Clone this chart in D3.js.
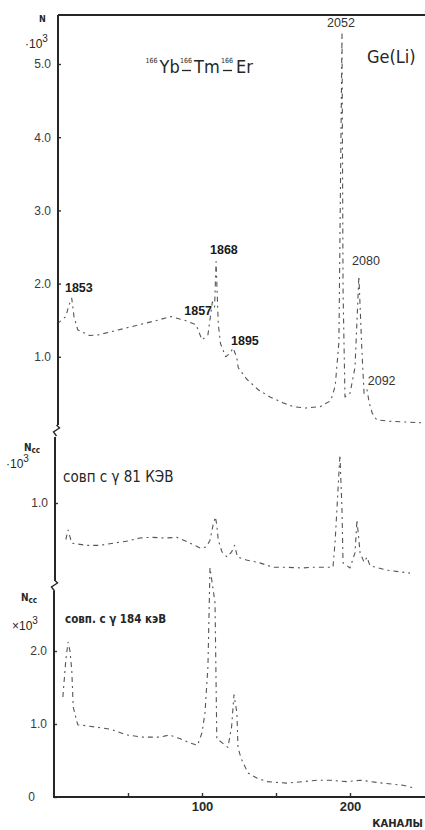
<!DOCTYPE html>
<html>
<head>
<meta charset="utf-8">
<script src="https://cdn.jsdelivr.net/npm/d3@7/dist/d3.min.js"></script>
<style>
  html, body { margin: 0; padding: 0; background: #ffffff; }
  svg { display: block; }
  .tick text { font-family: "Liberation Sans", Arial, sans-serif; font-size: 12px; fill: #3a3a3a; }
  .tick line { stroke: #333; stroke-width: 1.4; }
</style>
</head>
<body>
<svg id="chart" width="425" height="830"></svg>
<script>
// ---------------- DATA ----------------
// Upper panel: Ge(Li) singles spectrum, N x10^3 vs channel
const topChannels = [2, 4, 8, 10, 12, 13.5, 16, 20, 24, 30, 40, 50, 60, 70, 79, 88, 96, 100, 104, 107, 108.5, 109.5, 111, 112.5, 116, 119, 121, 123.5, 124.5, 130, 138, 146, 155, 161.5, 170, 180, 187, 190, 192.5, 193.8, 194.6, 195.3, 196.6, 200, 203.4, 206, 208, 209.5, 211.5, 213, 215, 218, 226, 236, 248];
const topCounts   = [1.45, 1.48, 1.55, 1.7, 1.8, 1.55, 1.37, 1.33, 1.29, 1.3, 1.35, 1.4, 1.45, 1.5, 1.55, 1.5, 1.44, 1.23, 1.3, 1.75, 1.68, 2.3, 1.45, 1.18, 1.0, 1.05, 1.12, 0.99, 0.85, 0.7, 0.55, 0.45, 0.37, 0.32, 0.3, 0.32, 0.4, 0.6, 1.2, 3.8, 5.42, 1.92, 0.45, 0.5, 0.86, 2.1, 1.1, 0.5, 0.55, 0.37, 0.23, 0.14, 0.12, 0.11, 0.1];

// Middle panel: coincidences with gamma 81 keV, Ncc x10^3
const midChannels = [8, 9.5, 12, 22, 31, 40, 50, 58, 65, 75, 83, 90, 99, 103, 105.4, 107.5, 109, 110, 111, 113.5, 117, 120, 122, 124, 130, 139, 148, 157, 168, 175, 188.5, 190, 193.2, 194.6, 195.3, 200, 203.4, 204.7, 206.8, 209.5, 211.5, 213.5, 225, 240.5];
const midCounts   = [0.5, 0.63, 0.45, 0.42, 0.42, 0.45, 0.48, 0.52, 0.53, 0.52, 0.53, 0.47, 0.38, 0.4, 0.49, 0.7, 0.81, 0.7, 0.49, 0.33, 0.26, 0.33, 0.42, 0.26, 0.22, 0.18, 0.12, 0.12, 0.11, 0.12, 0.12, 0.49, 1.66, 0.9, 0.18, 0.11, 0.32, 0.77, 0.32, 0.19, 0.26, 0.14, 0.08, 0.04];

// Lower panel: coincidences with gamma 184 keV, Ncc x10^3
const botChannels = [6, 8, 9.5, 10.8, 12, 13, 16, 24, 38, 49, 60, 71.5, 78, 85, 92, 97, 100, 102, 104, 105.4, 108.8, 110, 117.5, 120, 121.6, 123.6, 124.3, 126.4, 131, 137, 144, 157, 168, 178, 186.5, 198, 207, 222, 236, 244];
const botCounts   = [1.37, 1.88, 2.12, 2.0, 1.74, 1.23, 0.99, 0.97, 0.93, 0.85, 0.82, 0.82, 0.85, 0.8, 0.74, 0.71, 0.88, 1.15, 1.78, 3.14, 2.66, 0.8, 0.68, 0.96, 1.4, 1.15, 0.68, 0.53, 0.33, 0.26, 0.21, 0.19, 0.21, 0.23, 0.23, 0.21, 0.23, 0.19, 0.16, 0.12];

// Peak annotations (energies), anchored in data coordinates of the upper panel
const peakNames    = ["1853", "1857", "1868", "1895", "2052", "2080", "2092"];
const peakLabelCh  = [7.4, 88, 105.4, 119.6, 184.5, 201.4, 212];
const peakLabelVal = [1.88, 1.57, 2.4, 1.16, 5.5, 2.26, 0.62];
const peakBold     = [true, true, true, true, false, false, false];

// Ticks
const topTicks = [1, 2, 3, 4, 5];
const topTickLabels = ["1.0", "2.0", "3.0", "4.0", "5.0"];
const midTicks = [1];
const midTickLabels = ["1.0"];
const botTicks = [0, 1, 2];
const botTickLabels = ["0", "1.0", "2.0"];
const xTicks = [50, 100, 150, 200];
const xTickLabels = ["", "100", "", "200"];

// ---------------- DRAW ----------------
const svg = d3.select("#chart");
const FONT = '"DejaVu Sans Condensed", "DejaVu Sans", sans-serif';
const ink = "#262626";

const x = d3.scaleLinear().domain([0, 250]).range([54, 424]);
const yTop = d3.scaleLinear().domain([0, 5]).range([430, 64]);
const yMid = d3.scaleLinear().domain([0, 1]).range([576, 503]);
const yBot = d3.scaleLinear().domain([0, 2]).range([797, 651]);

function drawSpectrum(ch, vals, y) {
  const pts = ch.map((c, i) => [c, vals[i]]);
  const line = d3.line().x(d => x(d[0])).y(d => y(d[1]));
  svg.append("path")
    .datum(pts)
    .attr("d", line)
    .attr("fill", "none")
    .attr("stroke", "#555")
    .attr("stroke-width", 1.1)
    .attr("stroke-dasharray", "5 4 2 4")
    .attr("stroke-linejoin", "round");
}
drawSpectrum(topChannels, topCounts, yTop);
drawSpectrum(midChannels, midCounts, yMid);
drawSpectrum(botChannels, botCounts, yBot);

// Left axes (one per panel) with ticks pointing inwards
function leftAxis(xPos, y, ticks, labels, y0, y1) {
  const g = svg.append("g").attr("transform", `translate(${xPos},0)`);
  g.call(d3.axisLeft(y).tickValues(ticks).tickFormat((d, i) => labels[i]).tickSize(-3).tickPadding(7));
  g.select(".domain").remove();
  g.append("line").attr("x1", 0).attr("x2", 0).attr("y1", y0).attr("y2", y1)
    .attr("stroke", ink).attr("stroke-width", 2);
  return g;
}
leftAxis(58, yTop, topTicks, topTickLabels, 15, 425);
leftAxis(55, yMid, midTicks, midTickLabels, 437, 581);
const gb = leftAxis(54, yBot, botTicks, botTickLabels, 591, 797);
gb.selectAll(".tick text").filter(d => d === 0).attr("x", -19);

// Axis breaks
function brk(xp, yp) {
  svg.append("path")
    .attr("d", `M${xp},${yp - 6} L${xp + 3},${yp - 3} L${xp - 3},${yp + 1} L${xp},${yp + 5}`)
    .attr("fill", "none").attr("stroke", ink).attr("stroke-width", 1.4);
}
brk(56.5, 431);
brk(54.5, 586);

// Top border
svg.append("line").attr("x1", 58).attr("x2", 425).attr("y1", 15).attr("y2", 15)
  .attr("stroke", ink).attr("stroke-width", 2);

// Bottom axis
const gx = svg.append("g").attr("transform", "translate(0,797)");
gx.call(d3.axisBottom(x).tickValues(xTicks).tickFormat((d, i) => xTickLabels[i]).tickSize(-4).tickPadding(5));
gx.select(".domain").remove();
gx.append("line").attr("x1", 53).attr("x2", 425).attr("y1", 0).attr("y2", 0)
  .attr("stroke", ink).attr("stroke-width", 2);
gx.selectAll(".tick text").style("font-size", "13px").style("font-weight", "bold").style("fill", "#2a2a2a");

svg.append("text").attr("x", 423).attr("y", 827).attr("text-anchor", "end")
  .style("font-family", '"DejaVu Sans", sans-serif').style("font-size", "10px").style("font-weight", "bold")
  .style("fill", ink).text("КАНАЛЫ");

// Y axis titles
function yTitle(xp, yp, main, sub, bold, size) {
  const t = svg.append("text").attr("x", xp).attr("y", yp)
    .style("font-family", FONT).style("font-size", size + "px")
    .style("font-weight", bold ? "bold" : "normal").style("fill", ink);
  t.append("tspan").text(main);
  if (sub) t.append("tspan").attr("dy", 2).style("font-size", (size - 2) + "px").text(sub);
}
function tenCubed(xp, yp, lead) {
  const t = svg.append("text").attr("x", xp).attr("y", yp)
    .style("font-family", '"Liberation Sans", Arial, sans-serif').style("font-size", "12px").style("fill", ink);
  t.append("tspan").text(lead + "10");
  t.append("tspan").attr("dy", -6).style("font-size", "10px").text("3");
}
yTitle(39, 22, "N", null, true, 9);
tenCubed(25, 48, "·");
yTitle(24, 451, "N", "cc", true, 10);
tenCubed(6, 468, "·");
yTitle(21, 601, "N", "cc", true, 10);
tenCubed(12, 630, "×");

// Title: 166Yb -> 166Tm -> 166Er (mass numbers as superscripts,
// decay arrows drawn as short dashes under them)
const titleParts = [
  { t: "166", x: 145.5, sup: true }, { t: "Yb", x: 159.5, sup: false },
  { t: "166", x: 180, sup: true }, { t: "Tm", x: 194, sup: false },
  { t: "166", x: 221, sup: true }, { t: "Er", x: 236, sup: false }
];
titleParts.forEach(p => {
  svg.append("text").attr("x", p.x).attr("y", p.sup ? 63 : 73)
    .style("font-family", FONT).style("font-size", p.sup ? "7px" : "18px").style("fill", ink)
    .text(p.t);
});
[[182, 191], [223, 232]].forEach(([a, b]) => {
  svg.append("line").attr("x1", a).attr("x2", b).attr("y1", 70.5).attr("y2", 70.5)
    .attr("stroke", ink).attr("stroke-width", 1.3);
});

svg.append("text").attr("x", 367).attr("y", 63)
  .style("font-family", FONT).style("font-size", "18px").style("fill", ink).text("Ge(Li)");

// Peak labels
peakNames.forEach((n, i) => {
  svg.append("text").attr("x", x(peakLabelCh[i])).attr("y", yTop(peakLabelVal[i]))
    .style("font-family", '"Liberation Sans", Arial, sans-serif')
    .style("font-size", "12.5px")
    .style("font-weight", peakBold[i] ? "bold" : "normal")
    .style("fill", peakBold[i] ? "#1a1a1a" : "#333")
    .text(n);
});

// Panel annotations
svg.append("text").attr("x", 63).attr("y", 482)
  .style("font-family", FONT).style("font-size", "15px").style("fill", ink)
  .text("совп с γ 81 КЭВ");
svg.append("text").attr("x", 65).attr("y", 623)
  .style("font-family", FONT).style("font-size", "11.5px").style("font-weight", "bold").style("fill", ink)
  .text("совп. с γ 184 кэВ");
</script>
</body>
</html>
